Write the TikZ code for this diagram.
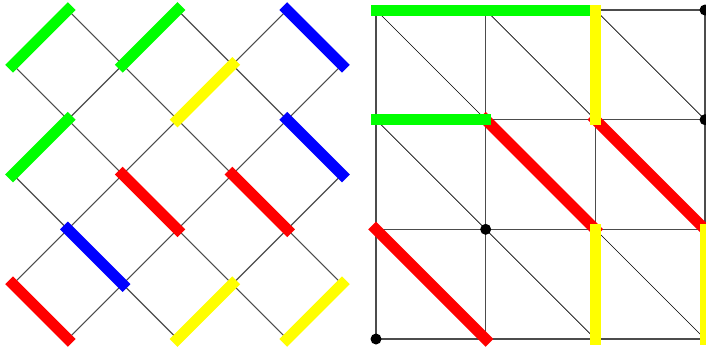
\documentclass[tikz,border=0pt]{standalone}
\begin{document}
\begin{tikzpicture}[x=1pt,y=-1pt,
  thinedge/.style={draw=black!70,line width=1.1pt},
  diagedge/.style={draw=black,line width=0.7pt},
  thick edge/.style={line width=11pt,line cap=rect},
  gedge/.style={thick edge,draw={rgb,255:red,0;green,255;blue,0}},
  bedge/.style={thick edge,draw={rgb,255:red,0;green,0;blue,255}},
  yedge/.style={thick edge,draw={rgb,255:red,255;green,255;blue,0}},
  redge/.style={thick edge,draw={rgb,255:red,255;green,0;blue,0}},
  vdot/.style={circle,fill=black,inner sep=0pt,minimum size=11pt}]
\useasboundingbox (0,0) rectangle (706,349);
\clip (0,0) rectangle (706,349);
% ---------- left lattice ----------
\foreach \i in {0,...,6}{\foreach \j in {0,...,6}{
  \coordinate (L-\i-\j) at ({13+54.833*\i},{10+54.833*\j});}}
\foreach \j in {0,...,5}{
 \foreach \i in {0,...,6}{
  \pgfmathtruncatemacro\pp{mod(\i+\j,2)}
  \pgfmathtruncatemacro\jn{\j+1}
  \pgfmathtruncatemacro\il{\i-1}
  \pgfmathtruncatemacro\ir{\i+1}
  \ifnum\pp=1
    \ifnum\i>0 \draw[thinedge] (L-\i-\j) -- (L-\il-\jn); \fi
    \ifnum\i<6 \draw[thinedge] (L-\i-\j) -- (L-\ir-\jn); \fi
  \fi
 }}
\draw[gedge] (L-1-0) -- (L-0-1);
\draw[gedge] (L-3-0) -- (L-2-1);
\draw[gedge] (L-1-2) -- (L-0-3);
\draw[bedge] (L-5-0) -- (L-6-1);
\draw[bedge] (L-5-2) -- (L-6-3);
\draw[bedge] (L-1-4) -- (L-2-5);
\draw[yedge] (L-4-1) -- (L-3-2);
\draw[yedge] (L-4-5) -- (L-3-6);
\draw[yedge] (L-6-5) -- (L-5-6);
\draw[redge] (L-2-3) -- (L-3-4);
\draw[redge] (L-4-3) -- (L-5-4);
\draw[redge] (L-0-5) -- (L-1-6);
% ---------- right grid ----------
\foreach \i in {0,...,3}{\foreach \j in {0,...,3}{
  \coordinate (R-\i-\j) at ({376+109.67*\i},{10+109.67*\j});}}
\foreach \k in {0,...,3}{
  \draw[thinedge] (R-0-\k) -- (R-3-\k);
  \draw[thinedge] (R-\k-0) -- (R-\k-3);}
\foreach \i in {0,1,2}{\foreach \j in {0,1,2}{
  \pgfmathtruncatemacro\ia{\i+1}
  \pgfmathtruncatemacro\ja{\j+1}
  \draw[diagedge] (R-\i-\j) -- (R-\ia-\ja);}}
\draw[redge] (R-1-1) -- (R-2-2);
\draw[redge] (R-2-1) -- (R-3-2);
\draw[redge] (R-0-2) -- (R-1-3);
\draw[gedge] (R-0-0) -- (R-2-0);
\draw[gedge] (R-0-1) -- (R-1-1);
\draw[yedge] (R-2-0) -- (R-2-1);
\draw[yedge] (R-2-2) -- (R-2-3);
\draw[yedge] (R-3-2) -- (R-3-3);
\node[vdot] (d1) at (R-3-0) {};
\node[vdot] (d2) at (R-3-1) {};
\node[vdot] (d3) at (R-1-2) {};
\node[vdot] (d4) at (R-0-3) {};
\end{tikzpicture}
\end{document}
